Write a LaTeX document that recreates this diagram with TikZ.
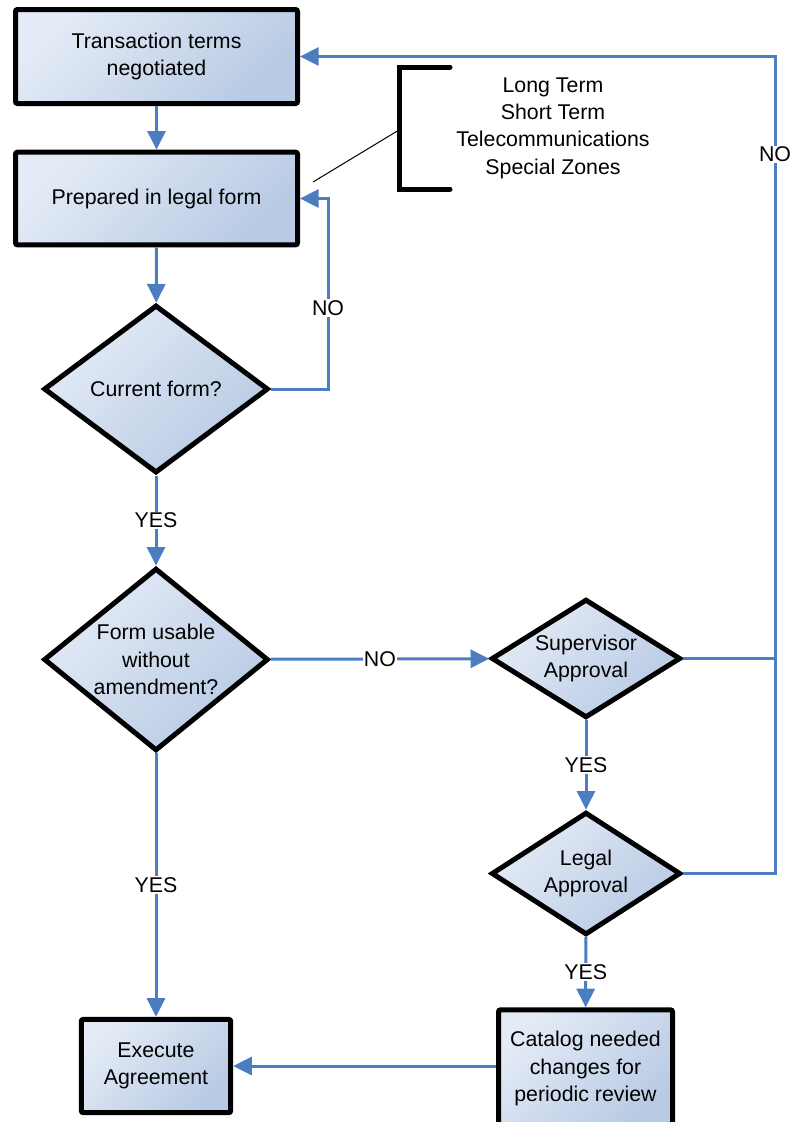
\documentclass[tikz,border=0pt]{standalone}
\usepackage{fontspec}
\setmainfont{Liberation Sans}
\usetikzlibrary{shapes.geometric,arrows.meta}
\definecolor{flowblue}{RGB}{74,126,193}
\definecolor{fillA}{RGB}{228,235,246}
\definecolor{fillB}{RGB}{184,202,228}

\begin{document}
\begin{tikzpicture}[x=0.75pt,y=-0.75pt,
  every node/.style={font=\fontsize{16}{20.5}\selectfont, align=center},
  shaded/.style={top color=fillA, bottom color=fillB, shading angle=45},
  box/.style={rectangle, draw=black, line width=3.75pt, rounded corners=1.5pt,
              shaded, inner sep=0pt},
  choice/.style={diamond, draw=black, line width=3.75pt, shaded, inner sep=0pt},
  link/.style={draw=flowblue, line width=2.25pt},
  flow/.style={link, -{Triangle[length=14pt,width=13.5pt]}},
  tag/.style={fill=white, inner sep=1pt}]

% page
\useasboundingbox (0,0) rectangle (793,1122);
\fill[white] (0,0) rectangle (793,1122);

% process boxes
\node[box, minimum width=211.5pt, minimum height=70.5pt] (terms) at (156.5,56.5)
  {Transaction terms\\negotiated};
\node[box, minimum width=211.5pt, minimum height=69.5pt] (legal) at (156.5,198.5)
  {Prepared in legal form};
\node[box, minimum width=112pt, minimum height=70pt] (execute) at (156,1066)
  {Execute\\Agreement};
\node[box, minimum width=130.5pt, minimum height=88pt] (catalog) at (585.5,1068.5)
  {Catalog needed\\changes for\\periodic review};

% decisions
\node[choice, minimum width=168.5pt, minimum height=126pt,
      label=center:{Current form?}] (current) at (156,389) {};
\node[choice, minimum width=168.5pt, minimum height=137pt,
      label=center:{Form usable\\without\\amendment?}] (usable) at (156,659.5) {};
\node[choice, minimum width=142pt, minimum height=89pt,
      label=center:{Supervisor\\Approval}] (supervisor) at (586,658.5) {};
\node[choice, minimum width=142pt, minimum height=92pt,
      label=center:{Legal\\Approval}] (legalok) at (586,873.5) {};

% agreement kinds with bracket
\draw[line width=3.75pt, line cap=round] (450,67) -- (399,67) -- (399,189) -- (450,189);
\node (kinds) at (553,128) {Long Term\\Short Term\\Telecommunications\\Special Zones};
\coordinate (brk) at (399,130);
\coordinate (note) at (313,182);
\draw[line width=0.75pt] (brk) -- (note);

% main flow
\draw[flow] (terms) -- (legal);
\draw[flow] (legal) -- (current);
\draw[flow] (current) -- node[tag]{YES} (usable);
\draw[flow] (usable) -- node[tag]{YES} (execute);
\draw[flow] (usable) -- node[tag]{NO} (supervisor);
\draw[flow] (supervisor) -- node[tag]{YES} (legalok);
\draw[flow] (legalok) -- node[tag]{YES} (catalog);
\draw[flow] (catalog.west |- execute.east) -- (execute.east);

% rework loop for an outdated form
\coordinate (loopA) at (328,198.5);
\draw[flow] (current.east) -| (loopA) -- (legal.east);
\node[tag] at (328,308) {NO};

% rejection loop back to negotiation
\coordinate (rtop) at (775,56.5);
\coordinate (rlegal) at (775,873.5);
\draw[link] (supervisor.east) -- (supervisor.east -| rtop);
\draw[flow] (legalok.east) -- (rlegal) -- node[tag, pos=0.88]{NO} (rtop) -- (terms.east);
\end{tikzpicture}
\end{document}
